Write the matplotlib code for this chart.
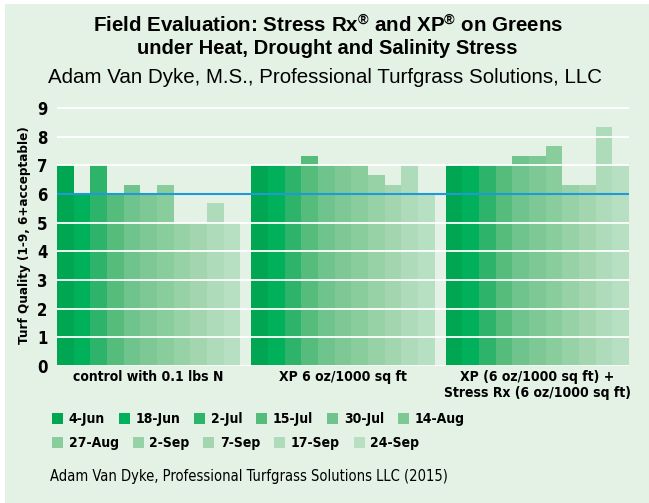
import os
import matplotlib
matplotlib.use("Agg")
import matplotlib.pyplot as plt
from matplotlib import font_manager
from matplotlib.font_manager import FontProperties
from matplotlib.patches import Patch, Rectangle

dates = ['4-Jun', '18-Jun', '2-Jul', '15-Jul', '30-Jul', '14-Aug',
         '27-Aug', '2-Sep', '7-Sep', '17-Sep', '24-Sep']
treatments = ['control with 0.1 lbs N',
              'XP 6 oz/1000 sq ft',
              'XP (6 oz/1000 sq ft) +\nStress Rx (6 oz/1000 sq ft)']
control = [7, 6, 7, 6, 6.33, 6, 6.33, 5, 5, 5.67, 5]
xp = [7, 7, 7, 7.33, 7, 7, 7, 6.67, 6.33, 7, 6]
xp_rx = [7, 7, 7, 7, 7.33, 7.33, 7.67, 6.33, 6.33, 8.33, 7]
acceptable = 6

colors = ['#00a651', '#00b05a', '#2eb36a', '#55bc7c', '#6fc38c', '#7dc894',
          '#8acd9d', '#97d2a6', '#a3d6af', '#aedbb9', '#b7dfc1']
bg = '#e4f1e5'


# look for a narrow / condensed face, else plain DejaVu Sans
def find_face(bold):
    best = None
    for f in font_manager.fontManager.ttflist:
        base = os.path.basename(f.fname).lower()
        if not ('narrow' in base or 'condensed' in base):
            continue
        if 'oblique' in base or 'italic' in base:
            continue
        is_bold = 'bold' in base
        if is_bold != bold:
            continue
        score = 0 if 'liberation' in base else (1 if 'dejavusans' in base else 2)
        if 'mono' in base or 'serif' in base:
            score += 5
        if best is None or score < best[0]:
            best = (score, f.fname)
    return best[1] if best else None


bold_file = find_face(True)
reg_file = find_face(False)


def narrow_font(size, bold=True):
    path = bold_file if bold else reg_file
    if path:
        return FontProperties(fname=path, size=size)
    return FontProperties(family='DejaVu Sans', weight='bold' if bold else 'normal',
                          stretch='condensed', size=size)


plt.rcParams['mathtext.fontset'] = 'custom'
plt.rcParams['mathtext.rm'] = 'Liberation Sans:bold'
plt.rcParams['mathtext.bf'] = 'Liberation Sans:bold'
plt.rcParams['mathtext.it'] = 'Liberation Sans:bold'

fig = plt.figure(figsize=(6.49, 5.03), dpi=100, facecolor='white')
fig.patches.append(Rectangle((5 / 649, 0), 1, 1 - 4 / 503, transform=fig.transFigure,
                             facecolor=bg, edgecolor='none', zorder=-10))

ax = fig.add_axes([57 / 649, 137 / 503, 572 / 649, (366 - 102.3) / 503])
ax.set_facecolor('none')

gap = 0.66
n = len(dates)
series = [control, xp, xp_rx]
for g, vals in enumerate(series):
    off = g * (n + gap)
    for i, v in enumerate(vals):
        ax.bar(off + i, v, width=1.0, color=colors[i], linewidth=0, zorder=1)

ax.axhline(acceptable, color='#1e9bd7', lw=1.5, zorder=3)

ax.set_xlim(-0.5, 2 * (n + gap) + n - 0.5)
ax.set_ylim(0, 9.2)
ax.set_yticks(range(0, 10))
ax.set_axisbelow(False)
ax.grid(axis='y', color='white', lw=1.3)
ax.set_xticks([g * (n + gap) + (n - 1) / 2 for g in range(3)])
ax.set_xticklabels(treatments)
ax.tick_params(axis='x', length=0, pad=3)
ax.tick_params(axis='y', length=0, pad=7)
for lab in ax.get_xticklabels():
    lab.set_fontproperties(narrow_font(10))
    lab.set_linespacing(1.15)
for lab in ax.get_yticklabels():
    lab.set_fontproperties(narrow_font(12))
for s in ax.spines.values():
    s.set_visible(False)

fig.text(25 / 649, 1 - 235.6 / 503, 'Turf Quality (1-9, 6+acceptable)', rotation=90,
         ha='center', va='center', fontproperties=narrow_font(9.6))

fig.text(0.505, 1 - 26 / 503, r'Field Evaluation: Stress Rx$^{®}$ and XP$^{®}$ on Greens',
         ha='center', va='center', family='Liberation Sans', fontweight='bold', fontsize=14.8)
fig.text(0.505, 1 - 48 / 503, 'under Heat, Drought and Salinity Stress',
         ha='center', va='center', family='Liberation Sans', fontweight='bold', fontsize=14.5)
fig.text(0.5, 1 - 77 / 503, 'Adam Van Dyke, M.S., Professional Turfgrass Solutions, LLC',
         ha='center', va='center', family='Liberation Sans', fontsize=14.8)

handles = [Patch(facecolor=c, edgecolor='none', label=d) for c, d in zip(colors, dates)]
leg_kw = dict(frameon=False, loc='center left', borderpad=0, borderaxespad=0,
              handlelength=0.8, handleheight=0.85, handletextpad=0.4, columnspacing=1.0,
              prop=narrow_font(10))
fig.legend(handles=handles[:6], ncol=6, bbox_to_anchor=(52 / 649, 1 - 419 / 503), **leg_kw)
fig.legend(handles=handles[6:], ncol=5, bbox_to_anchor=(52 / 649, 1 - 443 / 503), **leg_kw)

fig.text(50 / 649, 1 - 477 / 503, 'Adam Van Dyke, Professional Turfgrass Solutions LLC (2015)',
         ha='left', va='center', fontproperties=narrow_font(10.5, bold=False))

fig.savefig('out.png', dpi=100, facecolor=fig.get_facecolor())
